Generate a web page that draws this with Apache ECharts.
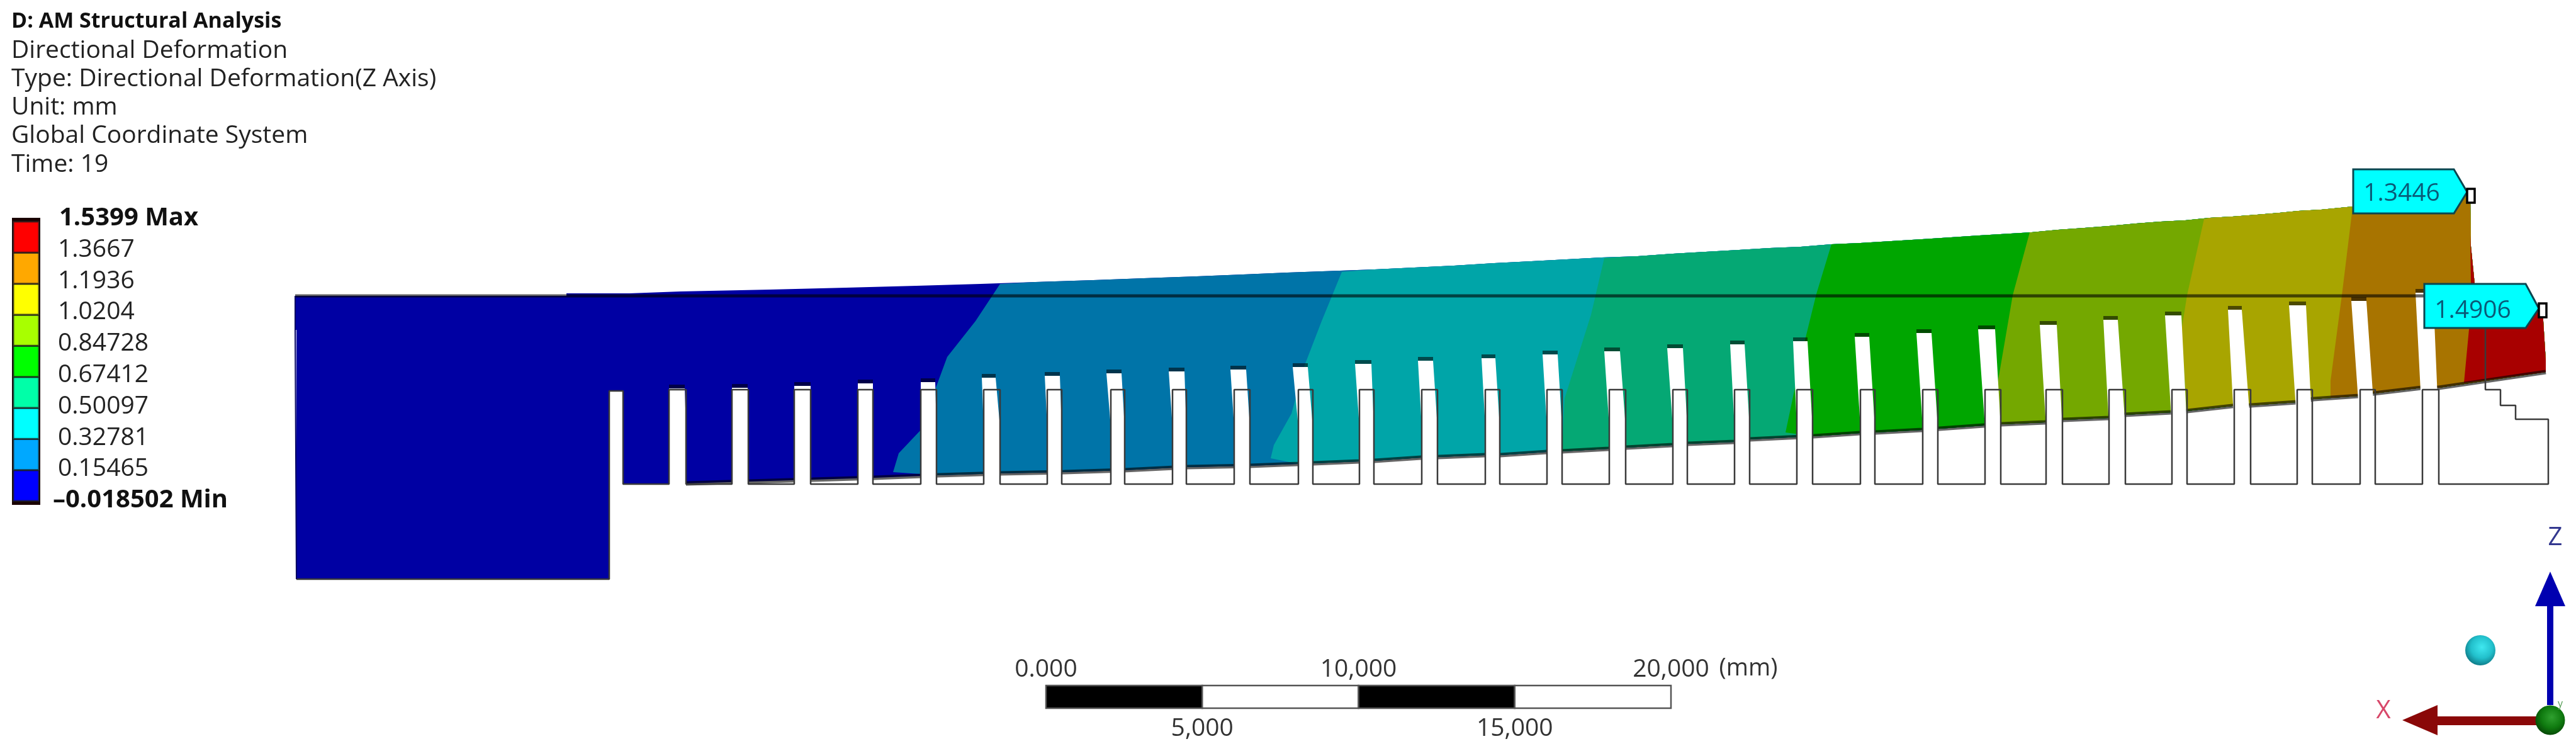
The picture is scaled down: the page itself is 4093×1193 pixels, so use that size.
<!DOCTYPE html>
<html>
<head>
<meta charset="utf-8">
<title>AM Structural Analysis</title>
<style>
  html, body { margin: 0; padding: 0; background: #fff; }
  #chart { width: 4093px; height: 1193px; }
</style>
<script src="https://cdn.jsdelivr.net/npm/echarts@6/dist/echarts.min.js"></script>
</head>
<body>
<div id="chart"></div>
<script>
// values; part geometry is in picture units
const headerText = 'D: AM Structural Analysis';
const infoLines = ['Directional Deformation', 'Type: Directional Deformation(Z Axis)', 'Unit: mm', 'Global Coordinate System', 'Time: 19'];

const legendLevels = [-0.018502, 0.15465, 0.32781, 0.50097, 0.67412, 0.84728, 1.0204, 1.1936, 1.3667, 1.5399];
const legendLabels = ['\u20130.018502 Min', '0.15465', '0.32781', '0.50097', '0.67412', '0.84728', '1.0204', '1.1936', '1.3667', '1.5399 Max'];
const legendColors = ['#0000ff', '#00a8ff', '#00ffff', '#00ffa8', '#00ff00', '#a8ff00', '#ffff00', '#ffa800', '#ff0000'];
const bodyColors = ['#0000a3', '#0074a8', '#00a5a8', '#05a874', '#00a600', '#74a800', '#a8a500', '#a87400', '#a80000'];

const scaleStops = [0, 5000, 10000, 15000, 20000];
const scaleTopTicks = [0, 10000, 20000];
const scaleBottomTicks = [5000, 15000];
const scaleLabels = { 0: '0.000', 5000: '5,000', 10000: '10,000', 15000: '15,000', 20000: '20,000' };
const scaleUnit = ['(mm)'];
const scaleUnitPos = [[2778, 1062]];

const baseLeft = 469, baseStep = 471, baseTop = 470, baseBottom = 920;
const toothTop = 619, toothBottom = 769, firstSlotTop = 621;
const slotLeft = [968, 1063, 1163, 1262, 1363, 1463, 1563, 1664, 1765, 1863, 1961, 2063, 2160, 2259, 2360, 2458, 2557, 2658, 2756, 2855, 2956, 3055, 3154, 3251, 3351, 3451, 3550, 3650, 3750, 3849];
const slotRight = [990, 1090, 1189, 1288, 1387, 1488, 1589, 1687, 1787, 1885, 1986, 2086, 2183, 2284, 2383, 2482, 2583, 2681, 2780, 2880, 2979, 3079, 3179, 3277, 3377, 3475, 3576, 3674, 3774, 3875];
const gapTopLeft = [968, 1063, 1163, 1262, 1363, 1463, 1560, 1660, 1758, 1857, 1955, 2054, 2153, 2253, 2354, 2451, 2549, 2649, 2749, 2849, 2947, 3045, 3143, 3241, 3342, 3440, 3540, 3637, 3736, 3838];
const gapTopRight = [990, 1088, 1188, 1288, 1387, 1486, 1582, 1684, 1782, 1882, 1980, 2078, 2179, 2277, 2376, 2475, 2574, 2674, 2772, 2872, 2970, 3069, 3170, 3268, 3365, 3466, 3562, 3664, 3760, 3866];
const gapTopY = [621, 617, 616, 613, 609, 607, 600, 597, 593, 590, 587, 583, 578, 573, 569, 563, 558, 553, 547, 542, 535, 529, 523, 516, 508, 501, 492, 485, 478, 465];

const stepOutline = [[3949, 470], [3949, 619], [3973, 619], [3973, 644], [3997, 644], [3997, 666], [4049, 666], [4049, 769]];

const deformedTop = [[469, 470], [900, 470], [900, 466], [1000, 466], [1081, 463], [1224, 460], [1344, 457], [1456, 454], [1558, 451], [1645, 448], [1737, 445], [1817, 442], [1901, 439], [1975, 436], [2045, 433], [2184, 428], [2247, 425], [2310, 422], [2374, 418], [2433, 415], [2489, 412], [2545, 409], [2602, 407], [2658, 403], [2710, 400], [2763, 397], [2812, 394], [2861, 392], [2910, 388], [2956, 386], [3005, 383], [3054, 380], [3100, 377], [3145, 374], [3228, 369], [3270, 365], [3312, 362], [3351, 359], [3394, 355], [3433, 352], [3472, 350], [3511, 346], [3547, 344], [3586, 341], [3622, 338], [3652, 335], [3688, 333], [3739, 328], [3925, 310]];
const deformedRight = [[3926, 391], [3932, 451], [3945, 460], [4040, 494], [4045, 573], [4045, 591]];
const deformedBottom = [[1063, 769], [1091, 768], [1189, 765], [1291, 762], [1389, 759], [1491, 755], [1589, 752], [1691, 750], [1786, 747], [1887, 742], [1986, 740], [2063, 737], [2160, 733], [2184, 732], [2258, 727], [2286, 726], [2360, 723], [2384, 723], [2458, 718], [2482, 717], [2556, 713], [2584, 711], [2658, 707], [2682, 705], [2756, 702], [2780, 698], [2882, 693], [2956, 688], [2980, 687], [3054, 683], [3180, 674], [3249, 671], [3279, 667], [3351, 664], [3375, 659], [3451, 655], [3475, 653], [3547, 645], [3577, 644], [3649, 639], [3676, 634], [3748, 629], [3772, 625], [3848, 616], [3875, 616], [4045, 591]];

const contourLines = [
  [[1589, 451], [1550, 510], [1505, 567], [1488, 613], [1463, 683], [1428, 720], [1419, 750]],
  [[2132, 432], [2100, 510], [2073, 580], [2052, 657], [2024, 707], [2019, 728]],
  [[2549, 410], [2528, 500], [2486, 633], [2482, 717]],
  [[2910, 388], [2886, 467], [2868, 540], [2837, 687]],
  [[3225, 369], [3198, 469], [3174, 609], [3177, 673]],
  [[3502, 348], [3475, 469], [3466, 526], [3475, 651]],
  [[3738, 330], [3721, 469], [3703, 605], [3703, 632]],
  [[3925, 373], [3926, 451], [3923, 523], [3915, 608]]
];

const legendFrame = [[19, 346], [64, 346], [64, 802], [19, 802]];

const tagShapes = [
  [[3739, 269], [3899, 269], [3920, 305], [3899, 339], [3739, 339]],
  [[3852, 451], [4013, 451], [4034, 490], [4013, 521], [3852, 521]]
];
const tagTexts = ['1.3446', '1.4906'];
const tagCenters = [[3816, 308], [3929, 494]];
const tagMarkers = [
  [[3920, 300], [3932, 300], [3932, 322], [3920, 322]],
  [[4034, 482], [4046, 482], [4046, 504], [4034, 504]]
];

const zArrow = [[4047, 1120], [4047, 963], [4028, 963], [4052, 908], [4076, 963], [4057, 963], [4057, 1120]];
const xArrow = [[4030, 1138], [3873, 1138], [3873, 1120], [3817, 1144], [3873, 1168], [3873, 1152], [4030, 1152]];
const triadLetters = ['Z', 'X', 'y'];
const triadLetterPos = [[4060, 855], [3787, 1130], [4068, 1118]];
const triadLetterColors = ['#33388f', '#d8486a', '#5aa05a'];
const triadLetterSizes = [40, 40, 16];
const cyanSphere = [[3941, 1033]];
const greenSphere = [[4052, 1144]];

const FONT = '"Open Sans", "Noto Sans", sans-serif';

// undeformed outline: base, then down and up every slot, then the stepped end
function outlinePoints() {
  const pts = [[baseStep, baseBottom], [slotLeft[0], baseBottom], [slotLeft[0], firstSlotTop], [slotRight[0], firstSlotTop], [slotRight[0], toothBottom]];
  for (let i = 1; i < slotLeft.length; i++) {
    pts.push([slotLeft[i], toothBottom], [slotLeft[i], toothTop], [slotRight[i], toothTop], [slotRight[i], toothBottom]);
  }
  pts.push([stepOutline[7][0], toothBottom]);
  return pts.concat(stepOutline.slice().reverse());
}

// region right of one contour line, later bands paint over earlier ones
function bandPolygon(line) {
  const start = line[0], end = line[line.length - 1];
  const bottom = deformedBottom.filter(p => p[0] > end[0]);
  const top = deformedTop.filter(p => p[0] > start[0]).reverse();
  const right = (top.length ? deformedRight : deformedRight.filter(p => p[1] > start[1])).slice().reverse();
  return line.concat(bottom, right, top);
}

function basePolygon() {
  return deformedTop.concat(deformedRight, deformedBottom.slice().reverse(), [
    [slotRight[0], toothBottom], [slotRight[0], firstSlotTop], [slotLeft[0], firstSlotTop],
    [slotLeft[0], baseBottom], [baseStep, baseBottom], [baseStep, 524], [baseLeft, 524]
  ]);
}

function gapPolygons() {
  return slotLeft.map((l, i) => [[gapTopLeft[i], gapTopY[i]], [gapTopRight[i], gapTopY[i]], [slotRight[i], toothTop + 60], [slotRight[i], 790], [l, 790], [l, toothTop + 60]]);
}

let zOrder = 1;
function polySeries(name, polys) {
  return {
    name, type: 'custom', coordinateSystem: 'cartesian2d', xAxisIndex: 0, yAxisIndex: 0,
    z: zOrder++, silent: true, animation: false, clip: false,
    data: polys.map(p => p.pts[0]),
    renderItem: (params, api) => {
      const p = polys[params.dataIndex];
      return {
        type: 'polygon',
        shape: { points: p.pts.map(q => api.coord(q)) },
        style: { fill: p.fill, stroke: p.stroke || null, lineWidth: p.lw || 0 }
      };
    }
  };
}

function lineSeries(name, pts, color, width) {
  return {
    name, type: 'line', xAxisIndex: 0, yAxisIndex: 0, z: zOrder++, silent: true, animation: false,
    showSymbol: false, data: pts, lineStyle: { color, width }, clip: false
  };
}

function textSeries(name, texts, positions, colors, sizes) {
  return {
    name, type: 'custom', coordinateSystem: 'cartesian2d', xAxisIndex: 0, yAxisIndex: 0,
    z: zOrder++, silent: true, animation: false, clip: false,
    data: positions,
    renderItem: (params, api) => {
      const c = api.coord(positions[params.dataIndex]);
      return {
        type: 'text',
        style: {
          text: texts[params.dataIndex], x: c[0], y: c[1], align: 'center', verticalAlign: 'middle',
          fill: colors[params.dataIndex], font: sizes[params.dataIndex] + 'px ' + FONT
        }
      };
    }
  };
}

function sphere(pts, size, light, mid, dark) {
  return {
    type: 'scatter', xAxisIndex: 0, yAxisIndex: 0, z: zOrder++, silent: true, animation: false,
    symbolSize: size, data: pts,
    itemStyle: {
      opacity: 1,
      color: new echarts.graphic.RadialGradient(0.55, 0.4, 0.6, [
        { offset: 0, color: light }, { offset: 0.6, color: mid }, { offset: 1, color: dark }
      ])
    }
  };
}

const gaps = gapPolygons();
const capLines = [];
slotLeft.forEach((l, i) => {
  if (i === 0) return;
  capLines.push([gapTopLeft[i], gapTopY[i] - 3], [gapTopRight[i], gapTopY[i] - 3], ['-', '-']);
});

const series = [
  polySeries('body', [{ pts: basePolygon(), fill: bodyColors[0] }]),
  polySeries('bands', contourLines.map((line, i) => ({ pts: bandPolygon(line), fill: bodyColors[i + 1] }))),
  lineSeries('bottom shade', deformedBottom, 'rgba(0,0,0,0.6)', 7),
  polySeries('gaps', gaps.map(pts => ({ pts, fill: '#fff' }))),
  lineSeries('gap caps', capLines, 'rgba(0,0,0,0.55)', 6),
  lineSeries('undeformed', outlinePoints(), '#3a3a3a', 2.5),
  lineSeries('undeformed top', [[baseLeft, baseTop], [stepOutline[0][0], baseTop]], 'rgba(0,0,0,0.6)', 5),
  lineSeries('base left', [[baseLeft, baseTop], [baseLeft, 524], [baseStep, 524], [baseStep, baseBottom]], '#000060', 2),
  polySeries('tags', tagShapes.map(pts => ({ pts, fill: '#00ffff', stroke: '#0b4650', lw: 3 }))),
  polySeries('markers', tagMarkers.map(pts => ({ pts, fill: '#fff', stroke: '#000', lw: 3.5 }))),
  textSeries('tag text', tagTexts, tagCenters, ['#0a5a78', '#0a5a78'], [39, 39]),
  polySeries('legend frame', [{ pts: legendFrame, fill: '#1a0000' }]),
  // legend swatches on their own value axis
  {
    name: 'legend', type: 'custom', coordinateSystem: 'cartesian2d', xAxisIndex: 1, yAxisIndex: 1,
    z: zOrder++, silent: true, animation: false,
    data: legendColors.map((c, i) => [0, legendLevels[i]]),
    renderItem: (params, api) => {
      const i = params.dataIndex;
      const a = api.coord([0, legendLevels[i + 1]]), b = api.coord([1, legendLevels[i]]);
      return {
        type: 'rect',
        shape: { x: a[0], y: a[1], width: b[0] - a[0], height: b[1] - a[1] },
        style: { fill: legendColors[i], stroke: 'rgba(30,30,30,0.75)', lineWidth: 3 }
      };
    }
  },
  // scale bar on an axis in mm
  {
    name: 'scale', type: 'custom', coordinateSystem: 'cartesian2d', xAxisIndex: 3, yAxisIndex: 3,
    z: zOrder++, silent: true, animation: false,
    data: scaleStops.slice(0, 4).map(v => [v, 0]),
    renderItem: (params, api) => {
      const i = params.dataIndex;
      const a = api.coord([scaleStops[i], 1]), b = api.coord([scaleStops[i + 1], 0]);
      return {
        type: 'rect',
        shape: { x: a[0], y: a[1], width: b[0] - a[0], height: b[1] - a[1] },
        style: { fill: i % 2 ? '#fff' : '#000', stroke: '#555', lineWidth: 2.5 }
      };
    }
  },
  textSeries('scale unit', scaleUnit, scaleUnitPos, ['#333'], [38]),
  polySeries('z arrow', [{ pts: zArrow, fill: '#0000b0' }]),
  polySeries('x arrow', [{ pts: xArrow, fill: '#8a0808' }]),
  sphere(cyanSphere, 48, '#40e8f0', '#22c0cc', '#0f7f8c'),
  sphere(greenSphere, 47, '#2fa02f', '#0f7a0f', '#064a06'),
  textSeries('triad letters', triadLetters, triadLetterPos, triadLetterColors, triadLetterSizes)
];

const chart = echarts.init(document.getElementById('chart'), null, { renderer: 'canvas' });
const hidden = { show: false };

chart.setOption({
  backgroundColor: '#fff',
  animation: false,
  title: [
    { text: headerText, left: 18, top: 12, padding: 0, textStyle: { fontFamily: FONT, fontSize: 34, fontWeight: 'bold', color: '#111', lineHeight: 45 } },
    { text: infoLines.join('\n'), left: 18, top: 58, padding: 0, textStyle: { fontFamily: FONT, fontSize: 39, fontWeight: 'normal', color: '#222', lineHeight: 45.2 } }
  ],
  grid: [
    { left: 0, top: 0, width: 4093, height: 1193 },
    { left: 21, top: 352, width: 41, height: 444 },
    { left: 84, top: 347, width: 300, height: 448 },
    { left: 1662, top: 1089, width: 993, height: 36 }
  ],
  xAxis: [
    { type: 'value', gridIndex: 0, min: 0, max: 4093, ...hidden },
    { type: 'value', gridIndex: 1, min: 0, max: 1, ...hidden },
    { type: 'value', gridIndex: 2, min: 0, max: 1, ...hidden },
    { type: 'value', gridIndex: 3, min: 0, max: 20000, ...hidden },
    {
      type: 'value', gridIndex: 3, min: 0, max: 20000, position: 'top',
      axisLine: hidden, axisTick: hidden, splitLine: hidden,
      axisLabel: { customValues: scaleTopTicks, margin: 6, fontFamily: FONT, fontSize: 39, color: '#333', formatter: v => scaleLabels[v] }
    },
    {
      type: 'value', gridIndex: 3, min: 0, max: 20000, position: 'bottom',
      axisLine: hidden, axisTick: hidden, splitLine: hidden,
      axisLabel: { customValues: scaleBottomTicks, margin: 13, fontFamily: FONT, fontSize: 39, color: '#333', formatter: v => scaleLabels[v] }
    }
  ],
  yAxis: [
    { type: 'value', gridIndex: 0, min: 0, max: 1193, inverse: true, ...hidden },
    { type: 'value', gridIndex: 1, min: legendLevels[0], max: legendLevels[9], ...hidden },
    {
      type: 'value', gridIndex: 2, min: legendLevels[0], max: legendLevels[9], position: 'left',
      axisLine: hidden, axisTick: hidden, splitLine: hidden,
      axisLabel: {
        inside: true, margin: 0, customValues: legendLevels, fontFamily: FONT, fontSize: 39, color: '#222',
        formatter: v => {
          const label = legendLabels[legendLevels.indexOf(v)];
          if (label.endsWith('Min')) return '{m|' + label + '}';
          if (label.endsWith('Max')) return '{b|' + label + '}';
          return '{n|' + label + '}';
        },
        rich: {
          m: { fontFamily: FONT, fontSize: 40, fontWeight: 'bold', color: '#111' },
          b: { fontFamily: FONT, fontSize: 40, fontWeight: 'bold', color: '#111', padding: [0, 0, 0, 10] },
          n: { fontFamily: FONT, fontSize: 39, color: '#222', padding: [0, 0, 0, 8] }
        }
      }
    },
    { type: 'value', gridIndex: 3, min: 0, max: 1, ...hidden }
  ],
  series
});
</script>
</body>
</html>
